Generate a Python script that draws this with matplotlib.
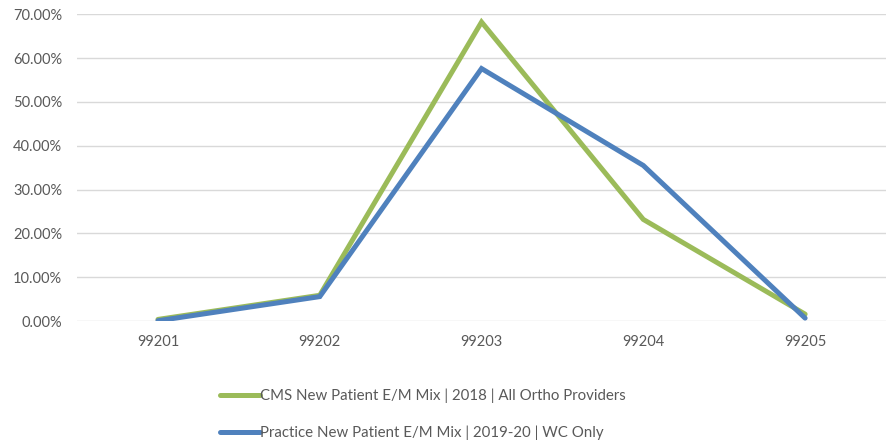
import matplotlib
matplotlib.use("Agg")
import matplotlib.pyplot as plt
from matplotlib.ticker import PercentFormatter

categories = ["99201", "99202", "99203", "99204", "99205"]
cms_values = [0.004, 0.059, 0.682, 0.232, 0.016]
practice_values = [0.001, 0.056, 0.576, 0.355, 0.007]
cms_label = "CMS New Patient E/M Mix | 2018 | All Ortho Providers"
practice_label = "Practice New Patient E/M Mix | 2019-20 | WC Only"

plt.rcParams['font.family'] = ['Lato', 'DejaVu Sans']
text_color = "#595959"

fig = plt.figure(figsize=(8.86, 4.43), dpi=100)
ax = fig.add_axes([0.087, 0.275, 0.913, 0.693])

x = list(range(len(categories)))
ax.plot(x, cms_values, color="#9BBB59", lw=3.6, label=cms_label, solid_capstyle='round', solid_joinstyle='miter', zorder=3)
ax.plot(x, practice_values, color="#4F81BD", lw=3.6, label=practice_label, solid_capstyle='round', solid_joinstyle='miter', zorder=4)

ax.set_xlim(-0.5, len(categories) - 0.5)
ax.set_ylim(0, 0.70)
ax.set_yticks([i / 10 for i in range(8)])
ax.yaxis.set_major_formatter(PercentFormatter(1.0, decimals=2))
ax.set_xticks(x)
ax.set_xticklabels(categories)
ax.tick_params(axis='both', length=0, colors=text_color, labelsize=10.5)
ax.tick_params(axis='y', pad=10.8)
ax.tick_params(axis='x', pad=10)
ax.grid(axis='y', color="#D9D9D9", lw=1)
ax.set_axisbelow(True)
for s in ax.spines.values():
    s.set_visible(False)

leg = fig.legend(loc='upper left', bbox_to_anchor=(0.248, 0.122), frameon=False,
                 handlelength=2.7, handletextpad=0.0, labelspacing=1.5,
                 fontsize=10.8, borderpad=0, borderaxespad=0)
for t in leg.get_texts():
    t.set_color(text_color)
for h in leg.get_lines():
    h.set_linewidth(3.6)

fig.savefig("out.png", dpi=100)
